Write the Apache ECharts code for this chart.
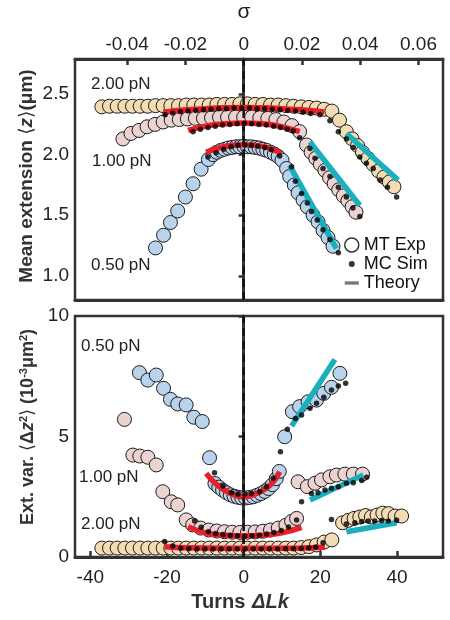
<!DOCTYPE html>
<html>
<head>
<meta charset="utf-8">
<script src="https://cdn.jsdelivr.net/npm/echarts@6/dist/echarts.min.js"></script>
<style>
  html, body { margin: 0; padding: 0; background: #fff; }
  #chart { width: 450px; height: 620px; }
</style>
</head>
<body>
<div id="chart"></div>
<script>
// turns per unit of sigma (top axis)
const LK0 = 760
const sigmaTicks = [-0.04, -0.02, 0, 0.02, 0.04, 0.06]
const lkTicks = [-40, -20, 0, 20, 40]
const zTicks = [1.0, 1.5, 2.0, 2.5]
const zRange = [0.8, 2.79]
const varRange = [0, 10]

// ---- top panel: mean extension (um) ----
const expTop200 = [[-37,2.395],[-35,2.40],[-33,2.40],[-31,2.40],[-29,2.40],[-27,2.40],[-25,2.40],[-23,2.405],[-21,2.405],[-19,2.405],[-17,2.405],[-15,2.41],[-13,2.41],[-11,2.41],[-9,2.41],[-7,2.415],[-5,2.415],[-3,2.415],[-1,2.42],[1,2.42],[3,2.415],[5,2.415],[7,2.41],[9,2.41],[11,2.405],[13,2.40],[15,2.395],[17,2.39],[19,2.385],[21,2.375],[23,2.36],[25,2.285],[26.8,2.19],[28.3,2.13],[29.7,2.075],[31,2.02],[32.4,1.97],[33.8,1.92],[35.2,1.865],[36.6,1.815],[38,1.775],[39.2,1.735]]
const simTop200 = [[-20.5,2.33],[-18.5,2.345],[-16.5,2.355],[-14.5,2.36],[-12.5,2.365],[-10.5,2.37],[-8.5,2.375],[-6.5,2.38],[-4.5,2.38],[-2.5,2.385],[-0.5,2.385],[1.5,2.385],[3.5,2.38],[5.5,2.38],[7.5,2.375],[9.5,2.37],[11.5,2.365],[13.5,2.36],[15.5,2.35],[17.5,2.34],[19.9,2.33],[22.5,2.28],[24.7,2.19],[26.8,2.13],[28.6,2.06],[30.3,1.98],[32,1.93],[33.8,1.886],[35.6,1.79],[37.5,1.73],[39.9,1.65]]
const redTop200 = [[-21,2.35],[-15,2.37],[-10,2.38],[-5,2.387],[0,2.39],[5,2.387],[10,2.38],[15,2.37],[21,2.352]]
const tealTop200 = [[26.8,2.175],[40.3,1.79]]

const expTop100 = [[-31.5,2.13],[-29.4,2.175],[-27.3,2.20],[-25.2,2.23],[-23.1,2.25],[-21,2.27],[-18.9,2.285],[-16.8,2.29],[-14.7,2.295],[-12.6,2.30],[-10.5,2.30],[-8.4,2.305],[-6.3,2.31],[-4.2,2.31],[-2.1,2.31],[0,2.31],[2.1,2.31],[4.2,2.305],[6.3,2.30],[8.4,2.29],[10.5,2.27],[12.6,2.24],[14.6,2.19],[16.4,2.08],[17.6,2.02],[18.8,1.97],[20,1.92],[21.2,1.87],[22.4,1.81],[23.6,1.76],[24.8,1.71],[26,1.66],[27.2,1.62],[28.3,1.57],[29.3,1.525]]
const simTop100 = [[-13.2,2.19],[-11.3,2.21],[-9.3,2.225],[-7.4,2.235],[-5.5,2.245],[-3.6,2.25],[-1.7,2.255],[0.2,2.26],[2.1,2.255],[4,2.25],[5.9,2.245],[7.8,2.235],[9.6,2.225],[11.3,2.21],[12.9,2.195],[14.6,2.14],[17.3,2.05],[18.6,1.97],[20.7,1.886],[22.5,1.82],[24.7,1.73],[26.8,1.65],[28.5,1.56],[30.3,1.49]]
const redTop100 = [[-14.5,2.20],[-10,2.235],[-5,2.255],[0,2.262],[5,2.255],[10,2.23],[14.6,2.19]]
const tealTop100 = [[17.3,2.106],[30.3,1.58]]

const expTop050 = [[-23,1.23],[-20.9,1.335],[-19.1,1.44],[-17.2,1.535],[-15.2,1.65],[-13.2,1.76],[-11.1,1.88],[-9.2,1.96],[-8,2.00],[-7,2.02],[-6,2.035],[-5,2.045],[-4,2.055],[-3,2.06],[-2,2.065],[-1,2.065],[0,2.07],[1,2.065],[2,2.065],[3,2.06],[4,2.055],[5,2.045],[6,2.035],[7,2.02],[8,2.005],[9,1.985],[10,1.955],[11.2,1.886],[12,1.82],[13.2,1.75],[14.2,1.685],[15.5,1.625],[16.6,1.57],[18.1,1.50],[19.4,1.445],[20.7,1.375],[22,1.316],[23.3,1.244]]
const simTop050 = [[-9.3,1.98],[-7.2,2.015],[-5.2,2.045],[-3.3,2.065],[-1.5,2.078],[0.3,2.08],[2,2.077],[3.7,2.07],[5.5,2.06],[7.2,2.04],[9.4,1.99],[12.5,1.90],[13.5,1.78],[15.1,1.68],[16.6,1.60],[17.7,1.53],[19.2,1.46],[20.7,1.38],[22.5,1.30],[24.7,1.19]]
const redTop050 = [[-9.8,2.02],[-6,2.06],[-3,2.077],[0,2.082],[3,2.077],[6,2.06],[9.8,2.01]]
const tealTop050 = [[12.0,1.91],[24.2,1.225]]

// ---- bottom panel: extension variance (1e-3 um^2) ----
const expBot200 = [[-37,0.37],[-35,0.37],[-33,0.37],[-31,0.37],[-29,0.37],[-27,0.37],[-25,0.37],[-23,0.37],[-21,0.37],[-19,0.37],[-17,0.37],[-15,0.37],[-13,0.37],[-11,0.37],[-9,0.37],[-7,0.37],[-5,0.37],[-3,0.37],[-1,0.37],[1,0.37],[3,0.37],[5,0.37],[7,0.37],[9,0.37],[11,0.37],[13,0.37],[15,0.39],[17,0.43],[19,0.5],[21,0.62],[23,0.71],[25.8,1.42],[27.3,1.52],[28.8,1.6],[30.3,1.66],[31.8,1.72],[33.3,1.66],[34.8,1.74],[36.3,1.82],[37.8,1.8],[39.5,1.7],[41.2,1.7]]
const simBot200 = [[-20.6,0.64],[-18.5,0.46],[-16.4,0.36],[-14.3,0.34],[-12.2,0.33],[-10.1,0.33],[-8,0.33],[-5.9,0.33],[-3.8,0.33],[-1.7,0.33],[0.4,0.33],[2.5,0.33],[4.6,0.33],[6.7,0.33],[8.8,0.33],[10.9,0.34],[13,0.34],[15,0.35],[17,0.37],[18.8,0.42],[20.7,0.59],[22.9,1.56],[26.8,1.37],[29,1.42],[30.8,1.47],[32.5,1.49],[34.2,1.49],[36,1.51],[37.7,1.49],[39.9,1.54]]
const redBot200 = [[-20.6,0.43],[-15,0.38],[-5,0.36],[0,0.36],[5,0.36],[15,0.37],[21.2,0.4]]
const tealBot200 = [[26.8,1.05],[39.9,1.42]]

const expBot100 = [[-31.1,5.71],[-28.9,4.23],[-27.1,4.19],[-25,4.14],[-22.8,3.82],[-21.1,2.71],[-18.9,2.29],[-17.2,2.16],[-15,1.54],[-13.3,1.33],[-11.2,1.2],[-9.1,1.12],[-7,1.08],[-5,1.05],[-3,1.03],[-1,1.02],[1,1.03],[3,1.04],[5,1.07],[7,1.12],[9,1.2],[11,1.32],[12.5,1.48],[13.8,1.60],[14.2,3.12],[16.6,2.92],[18.6,3.06],[20.3,3.2],[22.5,3.33],[24.2,3.40],[26.4,3.44],[28.6,3.44],[31,3.44]]
const simBot100 = [[-12.8,1.49],[-11.1,1.23],[-9.2,1.05],[-7.3,0.98],[-5.4,0.93],[-3.5,0.9],[-1.6,0.88],[0.3,0.87],[2.2,0.88],[4.1,0.9],[6,0.95],[7.9,1.02],[9.8,1.1],[11.7,1.25],[13.8,1.54],[15.1,2.29],[17.7,2.64],[19.4,2.67],[21.2,2.78],[22.9,2.85],[24.7,2.92],[26.8,3.06],[28.6,3.08],[30.8,3.17],[32.1,3.31]]
const redBot100 = [[-14.5,1.26],[-10,1.0],[-5,0.9],[0,0.87],[5,0.9],[10,1.0],[15.1,1.23]]
const tealBot100 = [[17.3,2.37],[31.2,3.40]]

const expBot050 = [[-27.2,7.65],[-25,7.34],[-22.8,7.55],[-20.9,7.0],[-19.1,6.54],[-17.2,6.35],[-15,6.31],[-13,5.80],[-10.8,5.62],[-8.9,4.12],[-7.5,3.05],[-6.5,2.9],[-5.5,2.78],[-4.5,2.67],[-3.5,2.58],[-2.5,2.52],[-1.5,2.48],[-0.5,2.45],[0.5,2.45],[1.5,2.47],[2.5,2.5],[3.5,2.56],[4.5,2.63],[5.5,2.72],[6.5,2.84],[7.5,3.0],[8.5,3.25],[9.3,3.55],[10.7,4.99],[12.7,6.03],[14.6,6.24],[16.8,6.44],[19,6.51],[20.9,6.79],[22.9,7.04],[25.1,7.62]]
const simBot050 = [[-7.6,3.5],[-5.4,2.95],[-3.2,2.67],[-1.5,2.61],[0.3,2.6],[2,2.64],[4.2,2.71],[5.9,2.92],[7.7,3.27],[9.6,4.37],[11.4,5.30],[13.5,5.75],[15.1,5.89],[17.3,6.17],[19,6.38],[20.9,6.63],[22.9,6.93],[24.7,7.10],[26.6,7.21]]
const redBot050 = [[-9.8,3.47],[-7,3.0],[-4,2.68],[-2,2.55],[0,2.5],[2,2.55],[4,2.68],[7,3.0],[9.4,3.54]]
const tealBot050 = [[12.5,5.44],[23.8,8.20]]

const TAN = '#f3dcb3', PINK = '#ead3d1', BLUE = '#b9d3ec'
const RED = '#e8202a', TEAL = '#19afbf'
const FONT = 'Liberation Sans, Arial, DejaVu Sans, sans-serif'

function exp(data, color, g) {
    return {
        type: 'scatter', data: data, symbolSize: 14, silent: true,
        xAxisIndex: g === 0 ? 0 : 2, yAxisIndex: g, z: 2,
        itemStyle: { color: color, borderColor: '#1a1a1a', borderWidth: 1, opacity: 1 }
    }
}
function sim(data, g) {
    return {
        type: 'scatter', data: data, symbolSize: 5.5, silent: true,
        xAxisIndex: g === 0 ? 0 : 2, yAxisIndex: g, z: 4,
        itemStyle: { color: '#000' }
    }
}
function theory(data, color, g, smooth) {
    return {
        type: 'line', data: data, showSymbol: false, smooth: smooth, silent: true,
        xAxisIndex: g === 0 ? 0 : 2, yAxisIndex: g, z: 3,
        lineStyle: { color: color, width: 5.5 }
    }
}
// dashed reference line at zero turns, spanning the whole panel
function zeroLine(g, range) {
    return {
        type: 'custom', silent: true, z: 5,
        xAxisIndex: g === 0 ? 0 : 2, yAxisIndex: g,
        data: [[0, range[0], range[1]]],
        renderItem: (params, api) => {
            const p0 = api.coord([api.value(0), api.value(1)])
            const p1 = api.coord([api.value(0), api.value(2)])
            return {
                type: 'line',
                shape: { x1: p0[0], y1: p0[1], x2: p1[0], y2: p1[1] },
                style: { stroke: '#111', lineWidth: 2.5, lineDash: [8, 5] }
            }
        }
    }
}

const axisLine = { lineStyle: { color: '#333', width: 3 } }
const labelStyle = { color: '#222', fontSize: 19, fontFamily: FONT }
const nameRich = {
    b: { fontSize: 18, fontWeight: 'bold', fill: '#333', fontFamily: FONT },
    a: { fontSize: 18, fill: '#333', fontFamily: 'DejaVu Sans, sans-serif' },
    i: { fontSize: 18, fontWeight: 'bold', fontStyle: 'italic', fill: '#333', fontFamily: FONT },
    s: { fontSize: 11, fontWeight: 'bold', fill: '#333', fontFamily: FONT, verticalAlign: 'top', padding: [0, 0, 8, 0] }
}
const nameRichTop = {
    b: Object.assign({}, nameRich.b, { fontSize: 19 }),
    a: Object.assign({}, nameRich.a, { fontSize: 19 }),
    i: Object.assign({}, nameRich.i, { fontSize: 19 })
}

const chart = echarts.init(document.getElementById('chart'))

const option = {
    animation: false,
    grid: [
        { left: 75, right: 7, top: 59, height: 241, show: true, borderColor: '#333', borderWidth: 2.5 },
        { left: 75, right: 7, top: 316, height: 241, show: true, borderColor: '#333', borderWidth: 2.5 }
    ],
    legend: {
        orient: 'vertical', left: 339, top: 231, itemWidth: 14, itemHeight: 14, itemGap: 1,
        selectedMode: false,
        textStyle: { fontSize: 18, color: '#111', fontFamily: FONT },
        data: [
            { name: 'MT Exp', icon: 'circle', itemStyle: { color: '#fff', borderColor: '#000', borderWidth: 1.5 } },
            { name: 'MC Sim', icon: 'path://M0 0L0.01 0L0 0.01ZM14 14L13.99 14L14 13.99ZM4 7a3 3 0 1 0 6 0a3 3 0 1 0 -6 0Z', itemStyle: { color: '#000', borderWidth: 0 } },
            { name: 'Theory', icon: 'path://M0 0H21V5H0Z', itemStyle: { color: '#777', borderWidth: 0 } }
        ]
    },
    xAxis: [
        {
            gridIndex: 0, type: 'value', min: -44, max: 52, position: 'bottom',
            axisLine: axisLine, axisTick: { show: false }, axisLabel: { show: false }, splitLine: { show: false }
        },
        {
            gridIndex: 0, type: 'value', min: -44, max: 52, position: 'top',
            name: 'σ', nameLocation: 'middle', nameGap: 36,
            nameTextStyle: { fontSize: 21, color: '#222', fontFamily: FONT, padding: [0, 30, 0, 0] },
            axisLine: axisLine,
            axisTick: { inside: true, length: 6, lineStyle: { color: '#333', width: 2.5 }, customValues: sigmaTicks.map(s => s * LK0) },
            axisLabel: Object.assign({}, labelStyle, {
                margin: 5,
                customValues: sigmaTicks.map(s => s * LK0),
                formatter: v => {
                    const s = v / LK0
                    return Math.abs(s) < 1e-9 ? '0' : s.toFixed(2)
                }
            }),
            splitLine: { show: false }
        },
        {
            gridIndex: 1, type: 'value', min: -44, max: 52, position: 'bottom',
            name: '{b|Turns}  {i|ΔLk}', nameLocation: 'middle', nameGap: 35,
            nameTextStyle: {
                padding: [0, 38, 0, 0],
                rich: {
                    b: { fontSize: 20, fontWeight: 'bold', color: '#333', fontFamily: FONT },
                    i: { fontSize: 20, fontWeight: 'bold', fontStyle: 'italic', color: '#333', fontFamily: FONT }
                }
            },
            axisLine: axisLine,
            axisTick: { inside: true, length: 6, lineStyle: { color: '#333', width: 2.5 }, customValues: lkTicks },
            axisLabel: Object.assign({}, labelStyle, { margin: 11, customValues: lkTicks }),
            splitLine: { show: false }
        }
    ],
    yAxis: [
        {
            gridIndex: 0, type: 'value', min: zRange[0], max: zRange[1],
            axisLine: axisLine,
            axisTick: { length: 5, lineStyle: { color: '#333', width: 2.5 }, customValues: zTicks },
            axisLabel: Object.assign({}, labelStyle, { margin: 6, customValues: zTicks, formatter: v => v.toFixed(1) }),
            splitLine: { show: false }
        },
        {
            gridIndex: 1, type: 'value', min: varRange[0], max: varRange[1], interval: 5,
            axisLine: axisLine,
            axisTick: { length: 5, lineStyle: { color: '#333', width: 2.5 } },
            axisLabel: Object.assign({}, labelStyle, { margin: 6 }),
            splitLine: { show: false }
        }
    ],
    graphic: [
        {
            type: 'text', x: 27, y: 176, rotation: Math.PI / 2,
            style: {
                text: '{b|Mean extension }{a|⟨}{i|z}{a|⟩}{b|(μm)}',
                align: 'center', verticalAlign: 'middle', rich: nameRichTop
            }
        },
        {
            type: 'text', x: 28, y: 427, rotation: Math.PI / 2,
            style: {
                text: '{b|Ext. var. }{a|⟨}{b|Δ}{i|z}{s|2}{a|⟩}{b| (10}{s|-3}{b|μm}{s|2}{b|)}',
                align: 'center', verticalAlign: 'middle', rich: nameRich
            }
        },
        { type: 'text', left: 91, top: 76, style: { text: '2.00 pN', fill: '#222', font: '17px ' + FONT } },
        { type: 'text', left: 92, top: 153, style: { text: '1.00 pN', fill: '#222', font: '17px ' + FONT } },
        { type: 'text', left: 91, top: 257, style: { text: '0.50 pN', fill: '#222', font: '17px ' + FONT } },
        { type: 'text', left: 81, top: 338, style: { text: '0.50 pN', fill: '#222', font: '17px ' + FONT } },
        { type: 'text', left: 79, top: 469, style: { text: '1.00 pN', fill: '#222', font: '17px ' + FONT } },
        { type: 'text', left: 81, top: 516, style: { text: '2.00 pN', fill: '#222', font: '17px ' + FONT } }
    ],
    series: [
        // legend-only entries
        { name: 'MT Exp', type: 'scatter', data: [], itemStyle: { color: '#fff', borderColor: '#000' } },
        { name: 'MC Sim', type: 'scatter', data: [], itemStyle: { color: '#000' } },
        { name: 'Theory', type: 'line', data: [], lineStyle: { color: '#777' }, itemStyle: { color: '#777' } },

        exp(expTop200, TAN, 0), exp(expTop100, PINK, 0), exp(expTop050, BLUE, 0),
        theory(redTop200, RED, 0, true), theory(redTop100, RED, 0, true), theory(redTop050, RED, 0, true),
        theory(tealTop200, TEAL, 0, false), theory(tealTop100, TEAL, 0, false), theory(tealTop050, TEAL, 0, false),
        sim(simTop200, 0), sim(simTop100, 0), sim(simTop050, 0),
        zeroLine(0, zRange),

        exp(expBot200, TAN, 1), exp(expBot100, PINK, 1), exp(expBot050, BLUE, 1),
        theory(redBot200, RED, 1, true), theory(redBot100, RED, 1, true), theory(redBot050, RED, 1, true),
        theory(tealBot200, TEAL, 1, false), theory(tealBot100, TEAL, 1, false), theory(tealBot050, TEAL, 1, false),
        sim(simBot200, 1), sim(simBot100, 1), sim(simBot050, 1),
        zeroLine(1, varRange)
    ]
}

chart.setOption(option)
</script>
</body>
</html>
